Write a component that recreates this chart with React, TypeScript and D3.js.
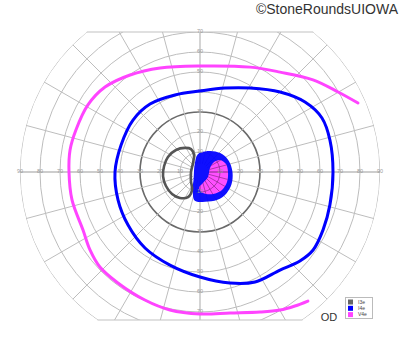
import React from "react";
import * as d3 from "d3";

// ---- data (polar: [meridian angle in degrees, eccentricity in degrees]) ----
const ringDegrees = [10, 20, 30, 40, 50, 60, 70, 80, 90];
const meridianAngles = d3.range(0, 360, 15);
const horizontalTickLabels = [10, 20, 30, 40, 50, 60, 70, 80, 90];
const verticalTickLabels = [10, 20, 30, 40, 50, 60, 70];

const isopterV4e: [number, number][] = [
  [23.6, 86.2], [30.1, 79.8], [39.2, 72.9], [51.3, 64.0], [64.5, 58.1], [90, 53.0],
  [111, 55.7], [125.8, 59.8], [138.2, 63.7], [149.1, 65.3], [161.3, 65.5], [170.4, 65.9],
  [180, 65.5], [192.3, 65.5], [206.4, 65.3], [215.3, 67.4], [223.5, 69.0], [233.5, 69.0],
  [246.7, 69.7], [257.7, 70.6], [270, 71.0], [282, 72.1], [293.2, 76.2], [300.1, 79.8],
  [305.3, 82.1], [309.9, 84.1],
];

const isopterI4e: [number, number][] = [
  [0, 66.5], [13.8, 66.9], [23.9, 66.7], [33.7, 63.1], [45, 56.6], [59.2, 48.9],
  [73.4, 43.8], [90, 40.5], [108, 40.5], [126.3, 42.2], [142.2, 42.4], [161.1, 41.7],
  [180, 42.5], [198.9, 43.3], [216.4, 44.7], [234.1, 46.9], [252.1, 48.9], [270, 52.5],
  [285.1, 57.5], [296.6, 61.5], [309.2, 63.3], [318.3, 66.9], [325.4, 68.7], [334.8, 68.0],
  [345.8, 67.0],
];

const isopterI3e: [number, number][] = [
  [122, 14.2], [137.5, 16.3], [154.9, 17.7], [170.5, 18.2], [186.2, 18.6], [202.4, 18.4],
  [218.2, 17.8], [232.4, 16.4], [244.4, 13.9], [246, 9.8], [225, 6.4], [180, 4.5],
  [127.9, 5.7], [109.4, 9.0], [111.4, 12.3],
];

const areaI4e: [number, number][] = [
  [97, 9.0], [76, 10.6], [53.1, 12.8], [33.7, 14.7], [17.2, 15.6], [358.2, 16.3],
  [338.8, 16.9], [321, 17.0], [302.2, 16.4], [279.8, 15.1], [259.9, 14.6], [248.7, 10.0],
  [225, 4.5], [125.5, 4.6],
];

const areaV4e: [number, number][] = [
  [35.5, 8.6], [31, 11.7], [17.1, 13.6], [0, 14.0], [339.7, 14.4], [320.7, 14.2],
  [300.6, 12.8], [278.1, 10.6], [266.4, 8.0], [285.3, 5.7], [328, 4.7], [21.8, 5.4],
];

const legendItems = [
  { label: "I3e", color: "#666666" },
  { label: "I4e", color: "#0000ff" },
  { label: "V4e", color: "#ff44ff" },
];

// ---- layout ----
const W = 400;
const H = 352;
const cx = 200;
const cy = 172;
const topLimit = 70; // degrees above center that are shown
const bottomLimit = 74; // degrees below center

const r = d3.scaleLinear().domain([0, 90]).range([0, 180]);

function toXY(angleDeg: number, ecc: number): [number, number] {
  const a = (angleDeg * Math.PI) / 180;
  return [cx + r(ecc) * Math.cos(a), cy - r(ecc) * Math.sin(a)];
}

const openLine = d3.line<[number, number]>().curve(d3.curveCatmullRom.alpha(0.5));
const closedLine = d3.line<[number, number]>().curve(d3.curveCatmullRomClosed.alpha(0.5));

function Meridians({ stroke, from, opacity }: { stroke: string; from: number; opacity: number }) {
  return (
    <>
      {meridianAngles.map((a) => {
        const [x1, y1] = toXY(a, from);
        const [x2, y2] = toXY(a, 92);
        const axis = a % 90 === 0;
        return (
          <line
            key={a}
            x1={x1}
            y1={y1}
            x2={x2}
            y2={y2}
            stroke={stroke}
            strokeOpacity={opacity}
            strokeWidth={axis ? 1.3 : 1}
          />
        );
      })}
    </>
  );
}

export default function App() {
  const R = r(90);
  const yTop = cy - r(topLimit);
  const yBot = cy + r(bottomLimit);
  const xTop = Math.sqrt(R * R - r(topLimit) ** 2);
  const xBot = Math.sqrt(R * R - r(bottomLimit) ** 2);
  const boundary =
    `M${cx - xTop},${yTop} L${cx + xTop},${yTop} ` +
    `A${R},${R} 0 0 1 ${cx + xBot},${yBot} L${cx - xBot},${yBot} ` +
    `A${R},${R} 0 0 1 ${cx - xTop},${yTop} Z`;

  const font = "'Liberation Sans', Arial, sans-serif";
  const v4eArea = closedLine(areaV4e.map(([a, e]) => toXY(a, e))) || "";
  const i4eArea = closedLine(areaI4e.map(([a, e]) => toXY(a, e))) || "";

  return (
    <svg
      width={W}
      height={H}
      style={{ position: "absolute", left: 0, top: 0, background: "#fff" }}
    >
      <defs>
        <clipPath id="field">
          <path d={boundary} />
        </clipPath>
        <clipPath id="v4earea">
          <path d={v4eArea} />
        </clipPath>
      </defs>

      {/* grid */}
      <g clipPath="url(#field)" fill="none">
        {ringDegrees.map((d) => (
          <circle
            key={d}
            cx={cx}
            cy={cy}
            r={r(d)}
            stroke={d === 30 ? "#6a6a6a" : "#bdbdbd"}
            strokeWidth={d === 30 ? 1.6 : 1}
          />
        ))}
        <Meridians stroke="#bdbdbd" from={4} opacity={1} />
      </g>
      <path
        d={`M${cx - xTop},${yTop} L${cx + xTop},${yTop} M${cx - xBot},${yBot} L${cx + xBot},${yBot}`}
        stroke="#c2c2c2"
        strokeWidth={1.2}
        fill="none"
      />

      {/* filled areas */}
      <path d={i4eArea} fill="#0000ff" fillOpacity={0.94} />
      <path d={v4eArea} fill="#ff50ff" />
      <g clipPath="url(#v4earea)" fill="none">
        <Meridians stroke="#8a2a8a" from={2} opacity={0.7} />
        <circle cx={cx} cy={cy} r={r(10)} stroke="#8a2a8a" strokeOpacity={0.7} />
      </g>

      {/* tick labels */}
      <g fontFamily={font} fontSize={5.5} fill="#9a9a9a" textAnchor="middle" dominantBaseline="middle">
        {horizontalTickLabels.map((d) => (
          <React.Fragment key={"h" + d}>
            <text x={cx - r(d)} y={cy}>{d}</text>
            <text x={cx + r(d)} y={cy}>{d}</text>
          </React.Fragment>
        ))}
        {verticalTickLabels.map((d) => (
          <React.Fragment key={"v" + d}>
            <text x={cx} y={cy - r(d)}>{d}</text>
            <text x={cx} y={cy + r(d)}>{d}</text>
          </React.Fragment>
        ))}
      </g>

      {/* isopters */}
      <path
        d={closedLine(isopterI3e.map(([a, e]) => toXY(a, e))) || ""}
        fill="none"
        stroke="#555555"
        strokeWidth={2.6}
      />
      <path
        d={closedLine(isopterI4e.map(([a, e]) => toXY(a, e))) || ""}
        fill="none"
        stroke="#0000ff"
        strokeWidth={3}
      />
      <path
        d={openLine(isopterV4e.map(([a, e]) => toXY(a, e))) || ""}
        fill="none"
        stroke="#ff44ff"
        strokeWidth={3}
        strokeLinecap="round"
      />

      {/* copyright */}
      <text x={398} y={13.5} textAnchor="end" fontFamily={font} fontSize={14} fill="#333">
        ©StoneRoundsUIOWA
      </text>

      {/* OD */}
      <text x={329} y={321} textAnchor="middle" fontFamily={font} fontSize={11} fill="#333">
        OD
      </text>

      {/* legend */}
      <g>
        <rect x={345.5} y={297.5} width={27} height={21} fill="#fff" stroke="#bbbbbb" strokeWidth={1} />
        {legendItems.map((it, i) => (
          <g key={it.label}>
            <rect x={348} y={299.5 + i * 6.3} width={5} height={5} fill={it.color} />
            <text
              x={358}
              y={302.2 + i * 6.3}
              fontFamily={font}
              fontSize={5}
              fill="#444"
              dominantBaseline="middle"
            >
              {it.label}
            </text>
          </g>
        ))}
      </g>
    </svg>
  );
}
